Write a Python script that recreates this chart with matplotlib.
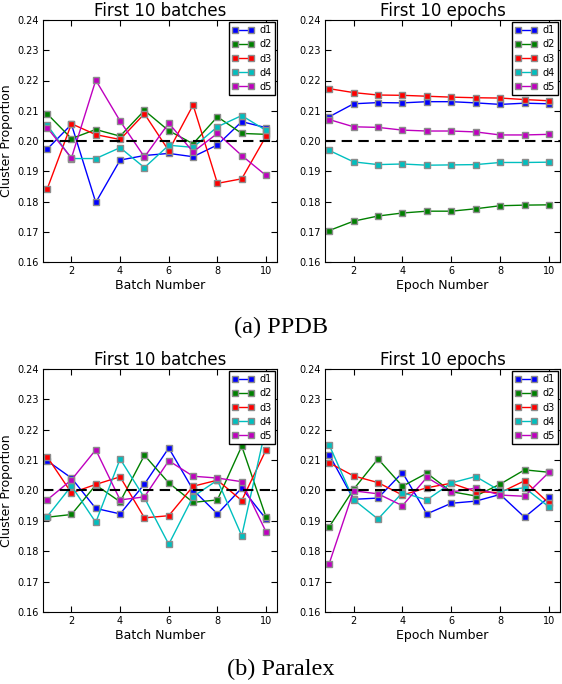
import numpy as np
import matplotlib.pyplot as plt

# x positions (batch / epoch number)
steps = np.arange(1, 11)
series_names = ["d1", "d2", "d3", "d4", "d5"]
series_colors = ["b", "g", "r", "c", "m"]

# PPDB, first 10 batches
ppdb_batch_d1 = [0.1973, 0.2055, 0.1797, 0.1937, 0.1952, 0.1959, 0.1948, 0.1987, 0.2064, 0.2044]
ppdb_batch_d2 = [0.2090, 0.2008, 0.2038, 0.2016, 0.2101, 0.2034, 0.1991, 0.2080, 0.2025, 0.2022]
ppdb_batch_d3 = [0.1841, 0.2057, 0.2021, 0.2005, 0.2090, 0.1968, 0.2119, 0.1860, 0.1875, 0.2016]
ppdb_batch_d4 = [0.2053, 0.1942, 0.1942, 0.1978, 0.1912, 0.1986, 0.1979, 0.2047, 0.2084, 0.2035]
ppdb_batch_d5 = [0.2044, 0.1944, 0.2201, 0.2066, 0.1947, 0.2059, 0.1964, 0.2025, 0.1952, 0.1886]

# PPDB, first 10 epochs
ppdb_epoch_d1 = [0.2080, 0.2123, 0.2127, 0.2126, 0.2130, 0.2130, 0.2126, 0.2121, 0.2125, 0.2123]
ppdb_epoch_d2 = [0.1704, 0.1735, 0.1752, 0.1762, 0.1768, 0.1768, 0.1776, 0.1786, 0.1788, 0.1789]
ppdb_epoch_d3 = [0.2173, 0.2160, 0.2152, 0.2151, 0.2148, 0.2145, 0.2143, 0.2142, 0.2137, 0.2133]
ppdb_epoch_d4 = [0.1969, 0.1931, 0.1922, 0.1924, 0.1920, 0.1921, 0.1922, 0.1929, 0.1929, 0.1930]
ppdb_epoch_d5 = [0.2071, 0.2047, 0.2045, 0.2036, 0.2033, 0.2033, 0.2030, 0.2020, 0.2020, 0.2022]

# Paralex, first 10 batches
para_batch_d1 = [0.2098, 0.2041, 0.1941, 0.1923, 0.2021, 0.2140, 0.2002, 0.1923, 0.2008, 0.1906]
para_batch_d2 = [0.1912, 0.1921, 0.2018, 0.1963, 0.2116, 0.2025, 0.1961, 0.1969, 0.2146, 0.1912]
para_batch_d3 = [0.2111, 0.1992, 0.2020, 0.2045, 0.1910, 0.1917, 0.2014, 0.2034, 0.1967, 0.2134]
para_batch_d4 = [0.1914, 0.2015, 0.1895, 0.2104, 0.1976, 0.1823, 0.1980, 0.2034, 0.1851, 0.2210]
para_batch_d5 = [0.1969, 0.2035, 0.2134, 0.1969, 0.1979, 0.2098, 0.2047, 0.2041, 0.2029, 0.1864]

# Paralex, first 10 epochs
para_epoch_d1 = [0.2118, 0.1971, 0.1975, 0.2059, 0.1923, 0.1958, 0.1965, 0.1987, 0.1912, 0.1978]
para_epoch_d2 = [0.1880, 0.2004, 0.2104, 0.2014, 0.2057, 0.1996, 0.1982, 0.2021, 0.2068, 0.2060]
para_epoch_d3 = [0.2091, 0.2048, 0.2026, 0.1985, 0.2009, 0.2024, 0.1996, 0.1993, 0.2032, 0.1958]
para_epoch_d4 = [0.2150, 0.1970, 0.1906, 0.1993, 0.1969, 0.2025, 0.2046, 0.1999, 0.2009, 0.1946]
para_epoch_d5 = [0.1759, 0.1999, 0.1989, 0.1950, 0.2043, 0.1995, 0.2008, 0.1985, 0.1981, 0.2060]

y_ticks = [0.16, 0.17, 0.18, 0.19, 0.20, 0.21, 0.22, 0.23, 0.24]


def draw_panel(ax, series, title, xlabel, ylabel=None):
    """Draw one panel of cluster proportions"""
    for vals, name, col in zip(series, series_names, series_colors):
        ax.plot(steps, vals, color=col, marker="s", markersize=4.5,
                markeredgecolor="0.55", markeredgewidth=1.0, linewidth=1.0,
                label=name)
    ax.axhline(0.20, color="k", linestyle="--", linewidth=1.5, dashes=(5, 3))

    ax.set_xlim(0.83, 10.45)
    ax.set_ylim(0.16, 0.24)
    ax.set_xticks([2, 4, 6, 8, 10])
    ax.set_yticks(y_ticks)
    ax.set_yticklabels([f"{t:.2f}" for t in y_ticks])
    ax.tick_params(direction="in", top=True, right=True, labelsize=7,
                   length=4, pad=3)

    ax.set_title(title, fontsize=12, pad=3)
    ax.set_xlabel(xlabel, fontsize=9, labelpad=2)
    if ylabel:
        ax.set_ylabel(ylabel, fontsize=9, labelpad=3)

    leg = ax.legend(loc="upper right", fontsize=7, numpoints=2, fancybox=False,
                    handlelength=2.2, labelspacing=0.42, borderpad=0.35,
                    handletextpad=0.6, borderaxespad=0.2, framealpha=1.0)
    leg.get_frame().set_edgecolor("k")
    leg.get_frame().set_linewidth(1.0)
    leg.set_zorder(10)
    return ax


fig = plt.figure(figsize=(5.62, 6.84), dpi=100, facecolor="white")

W, H = 562.0, 684.0
ax_tl = fig.add_axes([43 / W, 1 - 262 / H, 234 / W, 242 / H])
ax_tr = fig.add_axes([325 / W, 1 - 262 / H, 235 / W, 242 / H])
ax_bl = fig.add_axes([43 / W, 1 - 612 / H, 234 / W, 243 / H])
ax_br = fig.add_axes([325 / W, 1 - 612 / H, 235 / W, 243 / H])

draw_panel(ax_tl, [ppdb_batch_d1, ppdb_batch_d2, ppdb_batch_d3, ppdb_batch_d4, ppdb_batch_d5],
           "First 10 batches", "Batch Number", "Cluster Proportion")
draw_panel(ax_tr, [ppdb_epoch_d1, ppdb_epoch_d2, ppdb_epoch_d3, ppdb_epoch_d4, ppdb_epoch_d5],
           "First 10 epochs", "Epoch Number")
draw_panel(ax_bl, [para_batch_d1, para_batch_d2, para_batch_d3, para_batch_d4, para_batch_d5],
           "First 10 batches", "Batch Number", "Cluster Proportion")
draw_panel(ax_br, [para_epoch_d1, para_epoch_d2, para_epoch_d3, para_epoch_d4, para_epoch_d5],
           "First 10 epochs", "Epoch Number")

# Sub-figure captions
fig.text(0.5, 1 - 327 / H, "(a) PPDB", ha="center", va="center",
         fontsize=17.5, family="Liberation Serif")
fig.text(0.5, 1 - 669 / H, "(b) Paralex", ha="center", va="center",
         fontsize=17.5, family="Liberation Serif")

fig.savefig("out.png", dpi=100, facecolor="white")
